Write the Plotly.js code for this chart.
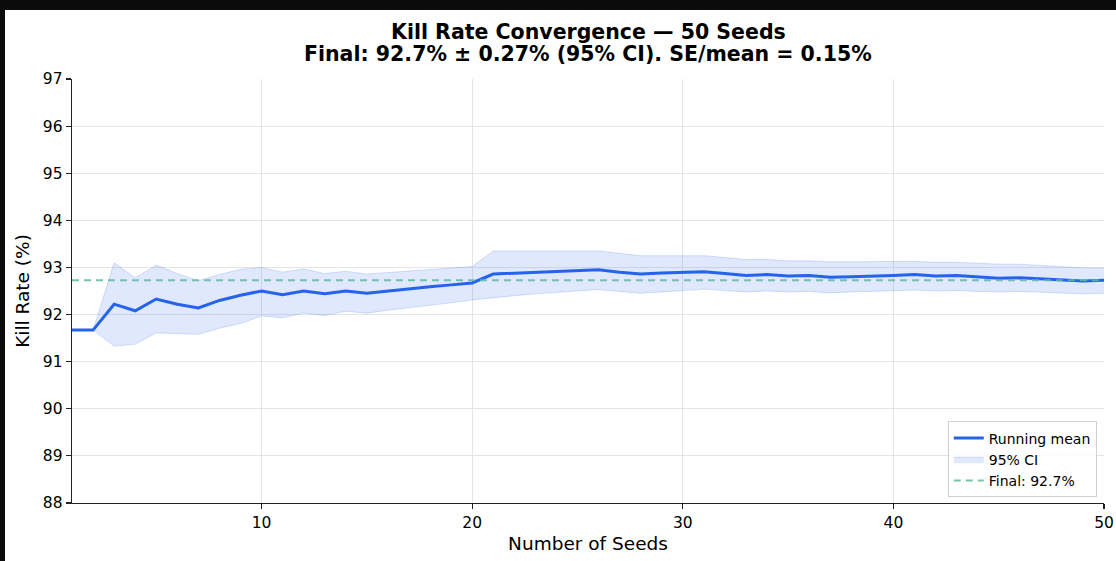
<!DOCTYPE html>
<html>
<head>
<meta charset="utf-8">
<script src="https://cdn.plot.ly/plotly-3.0.1.min.js"></script>
<style>
  html, body { margin:0; padding:0; background:#0b0b0b; width:1116px; height:561px; overflow:hidden; }
  #chart { position:absolute; left:5px; top:10px; width:1111px; height:551px; background:#fff; }
</style>
</head>
<body>
<div id="chart"></div>
<script>
const seeds = [1,2,3,4,5,6,7,8,9,10,11,12,13,14,15,16,17,18,19,20,21,22,23,24,25,26,27,28,29,30,31,32,33,34,35,36,37,38,39,40,41,42,43,44,45,46,47,48,49,50];
const runningMean = [91.67,91.67,92.22,92.08,92.33,92.22,92.14,92.30,92.41,92.50,
  92.42,92.50,92.44,92.50,92.45,92.50,92.54,92.59,92.63,92.67,
  92.86,92.88,92.90,92.92,92.93,92.95,92.90,92.86,92.88,92.89,
  92.91,92.87,92.83,92.85,92.82,92.83,92.79,92.80,92.81,92.83,
  92.85,92.82,92.83,92.80,92.77,92.78,92.76,92.74,92.71,92.73];
const ciUpper = [91.67,91.67,93.10,92.78,93.05,92.87,92.72,92.85,92.96,93.00,
  92.90,92.97,92.87,92.92,92.86,92.89,92.92,92.95,92.98,93.02,
  93.35,93.35,93.35,93.35,93.35,93.35,93.30,93.25,93.25,93.25,
  93.25,93.21,93.17,93.17,93.14,93.14,93.12,93.12,93.12,93.13,
  93.13,93.11,93.11,93.09,93.07,93.07,93.04,93.02,92.99,92.99];
const ciLower = [91.67,91.67,91.33,91.37,91.61,91.59,91.58,91.71,91.81,91.97,
  91.93,92.03,91.98,92.07,92.03,92.09,92.14,92.20,92.25,92.31,
  92.36,92.40,92.44,92.47,92.50,92.53,92.49,92.45,92.48,92.51,
  92.54,92.51,92.48,92.50,92.48,92.49,92.46,92.48,92.49,92.51,
  92.52,92.50,92.51,92.49,92.48,92.49,92.47,92.46,92.44,92.45];
const finalValue = 92.73;
const finalX = [1, 50];
const finalY = [finalValue, finalValue];
const titleLine1 = 'Kill Rate Convergence — 50 Seeds';
const titleLine2 = 'Final: 92.7% ± 0.27% (95% CI). SE/mean = 0.15%';

const font = "DejaVu Sans, Liberation Sans, sans-serif";

const traces = [
  { x: seeds, y: ciUpper, type: 'scatter', mode: 'lines',
    line: { color: 'rgba(37,99,235,0.18)', width: 1 }, showlegend: false, hoverinfo: 'skip' },
  { x: seeds, y: ciLower, type: 'scatter', mode: 'lines', fill: 'tonexty',
    fillcolor: 'rgba(37,99,235,0.15)', line: { color: 'rgba(37,99,235,0.18)', width: 1 },
    name: '95% CI', legendrank: 2 },
  { x: seeds, y: runningMean, type: 'scatter', mode: 'lines',
    line: { color: '#2563eb', width: 3 }, name: 'Running mean', legendrank: 1 },
  { x: finalX, y: finalY, type: 'scatter', mode: 'lines',
    line: { color: 'rgba(94,186,160,0.85)', width: 2, dash: '7px,5px' },
    name: 'Final: 92.7%', legendrank: 3 }
];

const layout = {
  width: 1111, height: 551,
  margin: { l: 67, r: 12, t: 69, b: 58 },
  paper_bgcolor: '#ffffff', plot_bgcolor: '#ffffff',
  font: { family: font, color: '#000', size: 15 },
  annotations: [
    { text: '<b>' + titleLine1 + '</b>', xref: 'paper', yref: 'paper', x: 0.5, y: 1.1108,
      xanchor: 'center', yanchor: 'middle', showarrow: false, font: { family: font, size: 20.5, color: '#000' } },
    { text: '<b>' + titleLine2 + '</b>', xref: 'paper', yref: 'paper', x: 0.5, y: 1.059,
      xanchor: 'center', yanchor: 'middle', showarrow: false, font: { family: font, size: 20.5, color: '#000' } }
  ],
  xaxis: {
    range: [1, 50], tickvals: [10, 20, 30, 40, 50],
    showgrid: true, gridcolor: '#e5e5e5', gridwidth: 1,
    showline: true, linecolor: '#222', linewidth: 1.3,
    ticks: 'outside', ticklen: 5, tickcolor: '#222', tickwidth: 1.2,
    zeroline: false, tickfont: { size: 15.5 },
    title: { text: 'Number of Seeds', font: { size: 18.5 }, standoff: 6 }
  },
  yaxis: {
    range: [88, 97], dtick: 1,
    showgrid: true, gridcolor: '#e5e5e5', gridwidth: 1,
    showline: true, linecolor: '#222', linewidth: 1.3,
    ticks: 'outside', ticklen: 5, tickcolor: '#222', tickwidth: 1.2,
    zeroline: false, tickfont: { size: 15.5 },
    title: { text: 'Kill Rate (%)', font: { size: 18.5 }, standoff: 8 }
  },
  legend: {
    x: 0.993, y: 0.013, xanchor: 'right', yanchor: 'bottom', traceorder: 'normal',
    bgcolor: 'rgba(255,255,255,0.85)', bordercolor: '#d0d0d0', borderwidth: 1,
    font: { size: 14 }, tracegroupgap: 0
  },
  showlegend: true
};

Plotly.newPlot('chart', traces, layout, { displayModeBar: false, staticPlot: true });
</script>
</body>
</html>
